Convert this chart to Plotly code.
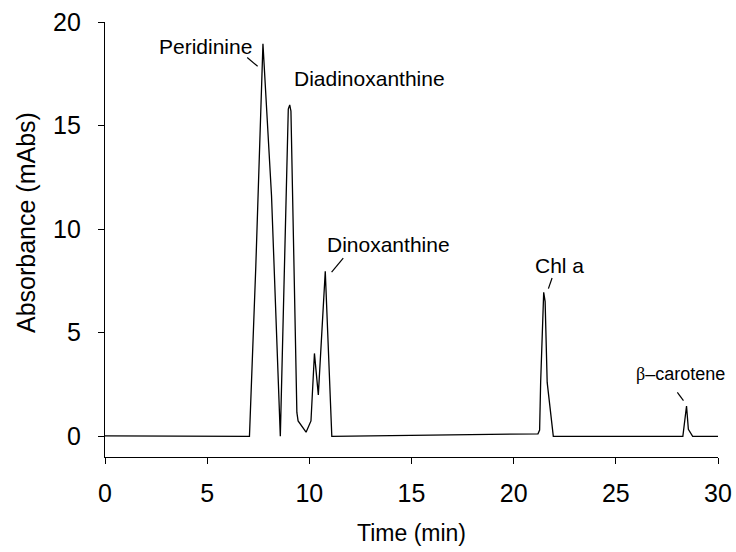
import plotly.graph_objects as go

# Chromatogram trace (retention time in min, absorbance in mAbs)
time_min = [0.0, 3.9, 7.07, 7.38, 7.73, 8.15, 8.58, 8.97, 9.04, 9.10, 9.39, 9.45,
            9.84, 10.08, 10.25, 10.44, 10.78, 11.10, 21.19, 21.27, 21.32, 21.47,
            21.54, 21.64, 21.94, 28.28, 28.46, 28.55, 28.76, 30.0]
absorbance = [0.02, 0.0, 0.0, 8.2, 18.95, 11.6, 0.0, 15.8, 16.0, 15.7, 1.15, 0.74,
              0.2, 0.74, 4.0, 2.0, 7.97, 0.0, 0.12, 0.3, 2.6, 6.95,
              6.5, 2.6, 0.0, 0.0, 1.46, 0.34, 0.0, 0.0]

# Peak labels: text, text anchor position, font size, leader line (x0, y0, x1, y1)
peak_names = ["Peridinine", "Diadinoxanthine", "Dinoxanthine", "Chl a",
              '<span style="font-family:Liberation Serif">β</span>–carotene']
label_x = [4.92, 9.22, 10.82, 21.0, 25.94]
label_y = [18.84, 17.28, 9.26, 8.23, 3.0]
label_anchor = ["center", "left", "left", "left", "left"]
label_size = [21, 21, 21, 21, 18]
leaders = [(6.96, 18.29, 7.47, 17.86),
           None,
           (11.66, 8.60, 11.09, 7.92),
           (21.88, 7.64, 21.70, 7.13),
           (28.01, 2.12, 28.31, 1.72)]

x_ticks = [0, 5, 10, 15, 20, 25, 30]
y_ticks = [0, 5, 10, 15, 20]

FONT = "Liberation Sans, Arial, sans-serif"

fig = go.Figure()
fig.add_trace(go.Scatter(x=time_min, y=absorbance, mode="lines",
                         line=dict(color="black", width=1.3),
                         showlegend=False, hoverinfo="skip"))

for name, lx, ly, anc, sz in zip(peak_names, label_x, label_y, label_anchor, label_size):
    fig.add_annotation(x=lx, y=ly, text=name, showarrow=False,
                       xanchor=anc, yanchor="middle", borderpad=0,
                       font=dict(family=FONT, size=sz, color="black"))

for seg in leaders:
    if seg is None:
        continue
    x0, y0, x1, y1 = seg
    fig.add_shape(type="line", x0=x0, y0=y0, x1=x1, y1=y1, xref="x", yref="y",
                  line=dict(color="black", width=1.2))

# Y-axis title placed as a rotated annotation, a little above the axis centre
fig.add_annotation(xref="paper", yref="paper", x=-0.129, y=0.54,
                   text="Absorbance (mAbs)", textangle=-90, showarrow=False,
                   xanchor="center", yanchor="middle",
                   font=dict(family=FONT, size=25, color="black"))

axis_common = dict(showline=True, linecolor="black", linewidth=1.2,
                   ticks="outside", ticklen=6, tickwidth=1.2, tickcolor="black",
                   showgrid=False, zeroline=False, automargin=False,
                   tickfont=dict(family=FONT, size=25, color="black"))

fig.update_xaxes(range=[0, 30], tickvals=x_ticks, ticklabelstandoff=8,
                 title=dict(text="Time (min)", standoff=18,
                            font=dict(family=FONT, size=23, color="black")),
                 **axis_common)
fig.update_yaxes(range=[-1, 20], tickvals=y_ticks, ticklabelstandoff=12,
                 **axis_common)

fig.update_layout(width=736, height=552,
                  margin=dict(l=105, r=18, t=22, b=95),
                  plot_bgcolor="white", paper_bgcolor="white")

fig.write_html("out.html")
